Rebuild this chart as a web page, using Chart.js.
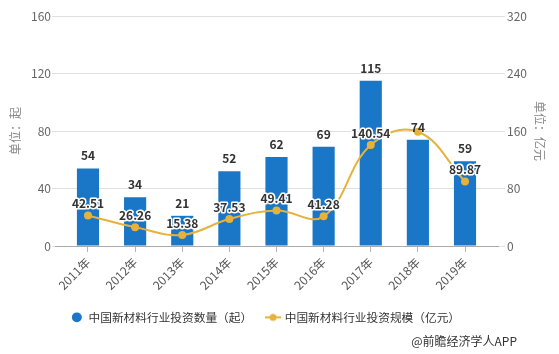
<!DOCTYPE html>
<html>
<head>
<meta charset="utf-8">
<script src="https://cdn.jsdelivr.net/npm/chart.js@4.4.0/dist/chart.umd.min.js"></script>
<style>
  html, body { margin: 0; padding: 0; background: #fff; }
  #wrap { width: 559px; height: 354px; }
</style>
</head>
<body>
<div id="wrap"><canvas id="investChart" width="559" height="354"></canvas></div>
<script>
// data
const years = ['2011年', '2012年', '2013年', '2014年', '2015年', '2016年', '2017年', '2018年', '2019年'];
const dealCounts = [54, 34, 21, 52, 62, 69, 115, 74, 59];
const dealAmounts = [42.51, 26.26, 15.38, 37.53, 49.41, 41.28, 140.54, 159, 89.87];
const countAxis = { min: 0, max: 160, step: 40 };
const amountAxis = { min: 0, max: 320, step: 80 };

const fontFamily = '"Noto Sans CJK SC", "Microsoft YaHei", sans-serif';
const blue = '#1a76c6';
const gold = '#e6b23c';

Chart.defaults.font.family = fontFamily;

function lineMarker() {
    let c = document.createElement('canvas');
    c.width = 16;
    c.height = 10;
    let g = c.getContext('2d');
    g.strokeStyle = gold;
    g.lineWidth = 2;
    g.beginPath();
    g.moveTo(0, 5);
    g.lineTo(16, 5);
    g.stroke();
    g.fillStyle = gold;
    g.beginPath();
    g.arc(8, 5, 3.5, 0, Math.PI * 2);
    g.fill();
    return c;
}

// value labels over bars and points, the line one is dropped when it hits the bar one
const valueLabels = {
    id: 'valueLabels',
    afterDatasetsDraw(chart) {
        const ctx = chart.ctx;
        ctx.save();
        ctx.font = 'bold 12px ' + fontFamily;
        ctx.textAlign = 'center';
        ctx.textBaseline = 'alphabetic';
        ctx.fillStyle = '#333';
        let barBoxes = [];
        chart.getDatasetMeta(0).data.forEach((el, i) => {
            let y = el.y - 8;
            ctx.fillText(String(dealCounts[i]), el.x, y);
            barBoxes.push({ top: y - 11, bottom: y + 2 });
        });
        ctx.lineWidth = 3;
        ctx.lineJoin = 'round';
        ctx.strokeStyle = '#fff';
        chart.getDatasetMeta(1).data.forEach((el, i) => {
            let y = el.y - 7;
            let b = barBoxes[i];
            if (y + 2 > b.top && y - 11 < b.bottom) return;
            let text = dealAmounts[i].toFixed(2);
            ctx.strokeText(text, el.x, y);
            ctx.fillText(text, el.x, y);
        });
        ctx.restore();
    }
};

const extras = {
    id: 'extras',
    afterLayout(chart) {
        chart.legend.left -= 14;
        chart.legend.right -= 14;
    },
    afterDraw(chart) {
        const ctx = chart.ctx;
        ctx.save();
        ctx.font = '12px ' + fontFamily;
        ctx.fillStyle = '#333';
        ctx.textAlign = 'right';
        ctx.textBaseline = 'middle';
        ctx.fillText('@前瞻经济学人APP', 517, 341);
        ctx.restore();
    }
};

function manageInvestChart() {
    let ctx = document.getElementById('investChart').getContext('2d');
    new Chart(ctx, {
        type: 'bar',
        data: {
            datasets: [{
                label: '中国新材料行业投资数量（起）',
                data: dealCounts.map((v, i) => ({ x: i, y: v })),
                backgroundColor: blue,
                categoryPercentage: 1,
                barPercentage: 0.47,
                yAxisID: 'y',
                order: 1
            },
            {
                type: 'line',
                label: '中国新材料行业投资规模（亿元）',
                data: dealAmounts.map((v, i) => ({ x: i, y: v })),
                borderColor: gold,
                backgroundColor: gold,
                borderWidth: 2,
                tension: 0.4,
                pointRadius: 4,
                pointBorderWidth: 0,
                pointBackgroundColor: gold,
                yAxisID: 'y1',
                order: 0
            }]
        },
        options: {
            responsive: false,
            animation: false,
            layout: { padding: { top: 16, bottom: 20.8, left: 0, right: 0 } },
            plugins: {
                tooltip: { enabled: false },
                legend: {
                    position: 'bottom',
                    labels: {
                        usePointStyle: true,
                        boxWidth: 12,
                        boxHeight: 7,
                        padding: 15,
                        color: '#333',
                        font: { size: 11.7 },
                        sort: (a, b) => a.datasetIndex - b.datasetIndex,
                        generateLabels(chart) {
                            let items = Chart.defaults.plugins.legend.labels.generateLabels(chart);
                            items.forEach(item => {
                                if (item.datasetIndex === 1) {
                                    item.pointStyle = lineMarker();
                                } else {
                                    item.pointStyle = 'circle';
                                    item.lineWidth = 0;
                                    item.strokeStyle = blue;
                                }
                            });
                            return items;
                        }
                    }
                }
            },
            scales: {
                x: {
                    type: 'linear',
                    offset: false,
                    min: -0.7,
                    max: years.length - 0.3,
                    afterBuildTicks: (scale) => {
                        scale.ticks = years.map((_, i) => ({ value: i }));
                    },
                    afterFit: (scale) => { scale.height = 50.5; },
                    grid: { offset: false, drawOnChartArea: false, drawTicks: true, tickLength: 6, color: '#b5b5b5' },
                    border: { display: true, color: '#aaa' },
                    ticks: {
                        autoSkip: false,
                        minRotation: 45,
                        maxRotation: 45,
                        padding: 3,
                        color: '#555',
                        font: { size: 12 },
                        callback: (v) => years[v] || ''
                    }
                },
                y: {
                    position: 'left',
                    min: countAxis.min,
                    max: countAxis.max,
                    afterFit: (scale) => { scale.width = 55; },
                    grid: { color: '#e0e0e0', drawTicks: true, tickLength: 3 },
                    border: { display: false },
                    ticks: { stepSize: countAxis.step, color: '#666', padding: 1, font: { size: 12 } },
                    title: { display: true, text: '单位：起', color: '#888', font: { size: 12 }, padding: { top: 8, bottom: 0 } }
                },
                y1: {
                    position: 'right',
                    min: amountAxis.min,
                    max: amountAxis.max,
                    afterFit: (scale) => { scale.width = 61; },
                    grid: { drawOnChartArea: false, color: '#e0e0e0', drawTicks: true, tickLength: 7 },
                    border: { display: false },
                    ticks: { stepSize: amountAxis.step, color: '#666', padding: 2, font: { size: 12 } },
                    title: { display: true, text: '单位：亿元', color: '#888', font: { size: 12 }, padding: { top: 12, bottom: 0 } }
                }
            }
        },
        plugins: [valueLabels, extras]
    });
}

manageInvestChart();
</script>
</body>
</html>
